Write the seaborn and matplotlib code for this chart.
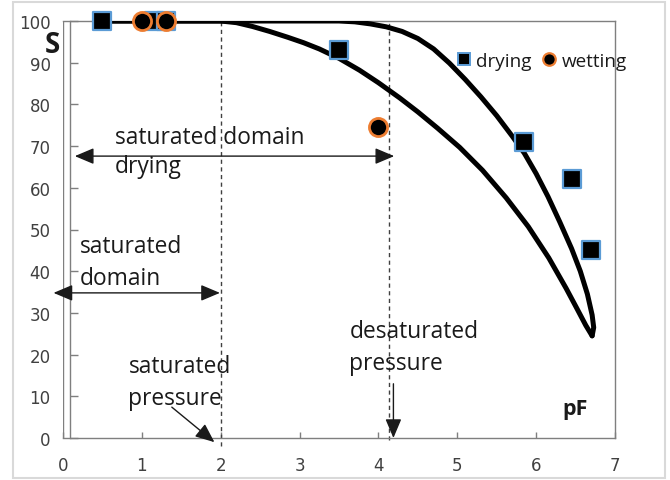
import matplotlib
matplotlib.use("Agg")
import matplotlib.pyplot as plt
import seaborn as sns
import pandas as pd
from matplotlib.lines import Line2D
from matplotlib.patches import Rectangle

# ---- data ----
drying_pf = [0.5, 1.15, 1.3, 3.5, 5.85, 6.45, 6.7]
drying_s = [100, 100, 100, 93, 71, 62, 45]

wetting_pf = [1.0, 1.3, 4.0]
wetting_s = [100, 100, 74.5]

upper_pf = [0.5, 3.5, 3.7, 3.9, 4.1, 4.3, 4.5, 4.7, 4.9, 5.1, 5.3, 5.5, 5.7, 5.85,
            6.0, 6.15, 6.3, 6.45, 6.56, 6.65, 6.71, 6.73, 6.71]
upper_s = [100, 100, 99.8, 99.3, 98.6, 97.5, 95.8, 93.3, 89.9, 86.0, 81.8, 77.3, 72.3, 68.3,
           63.4, 57.9, 51.8, 45.4, 40.0, 34.5, 29.5, 26.5, 24.5]

lower_pf = [0.5, 2.0, 2.2, 2.4, 2.62, 2.85, 3.05, 3.25, 3.5, 3.76, 4.0, 4.27, 4.5, 4.75,
            5.03, 5.32, 5.62, 5.9, 6.16, 6.38, 6.51, 6.63, 6.71]
lower_s = [100, 100, 99.6, 98.7, 97.5, 96.1, 94.8, 93.3, 91.05, 88.2, 85.2, 81.55, 78.2, 74.3,
           69.7, 64.2, 57.6, 50.7, 43.2, 35.9, 31.3, 27.0, 24.5]

x_ticks = [0, 1, 2, 3, 4, 5, 6, 7]
y_ticks = [0, 10, 20, 30, 40, 50, 60, 70, 80, 90, 100]

sat_pressure = 2.0
desat_pressure = 4.13

sns.set_style("white")
plt.rcParams["font.family"] = ["DejaVu Sans"]

fig = plt.figure(figsize=(6.7, 4.81), dpi=100)
ax = fig.add_axes([63 / 670, 1 - 439 / 481, (615 - 63) / 670, (439 - 22) / 481])

dry_df = pd.DataFrame({"pF": drying_pf, "S": drying_s})
wet_df = pd.DataFrame({"pF": wetting_pf, "S": wetting_s})
up_df = pd.DataFrame({"pF": upper_pf, "S": upper_s})
lo_df = pd.DataFrame({"pF": lower_pf, "S": lower_s})

line_kw = dict(color="black", linewidth=3.6, sort=False, estimator=None, zorder=3)
sns.lineplot(data=up_df, x="pF", y="S", ax=ax, **line_kw)
sns.lineplot(data=lo_df, x="pF", y="S", ax=ax, **line_kw)
for ln in ax.lines:
    ln.set_solid_capstyle("round")
    ln.set_solid_joinstyle("round")

sns.scatterplot(data=dry_df, x="pF", y="S", ax=ax, marker="s", s=170,
                color="black", edgecolor="#5b9bd5", linewidth=1.6, zorder=4, clip_on=False)
sns.scatterplot(data=wet_df, x="pF", y="S", ax=ax, marker="o", s=170,
                color="black", edgecolor="#ed7d31", linewidth=2.0, zorder=5, clip_on=False)

ax.set_xlim(0, 7)
ax.set_ylim(0, 100)
ax.set_xticks(x_ticks)
ax.set_yticks(y_ticks)
ax.set_xlabel("")
ax.set_ylabel("")

spine_col = "#7f7f7f"
for sp in ax.spines.values():
    sp.set_color(spine_col)
    sp.set_linewidth(1.0)
    sp.set_visible(True)
ax.spines["left"].set_position(("data", 0.09))
ax.axvline(0, color=spine_col, linewidth=1.0, zorder=1)

ax.tick_params(axis="x", direction="in", length=4, width=1, color=spine_col,
               pad=13, labelsize=12, labelcolor="#404040", bottom=True)
ax.tick_params(axis="y", direction="in", length=6, width=1, color=spine_col,
               pad=14, labelsize=12, labelcolor="#404040", left=True)

# dashed pressure markers
dash_kw = dict(color="#404040", linewidth=1.0, linestyle=(0, (3, 2.5)), clip_on=False, zorder=2)
ax.plot([sat_pressure, sat_pressure], [-2, 100], **dash_kw)
ax.plot([desat_pressure, desat_pressure], [-0.5, 100], **dash_kw)

# arrows
arr_col = "#1a1a1a"
head2 = "<|-|>,head_length=0.9,head_width=0.38"
head1 = "-|>,head_length=0.9,head_width=0.38"
akw = dict(color=arr_col, lw=1.0, shrinkA=0, shrinkB=0)
ax.annotate("", xy=(0.15, 67.6), xytext=(4.2, 67.6), annotation_clip=False,
            arrowprops=dict(arrowstyle=head2, mutation_scale=13, **akw))
ax.annotate("", xy=(-0.12, 34.8), xytext=(1.99, 34.8), annotation_clip=False,
            arrowprops=dict(arrowstyle=head2, mutation_scale=13, **akw))
ax.annotate("", xy=(1.92, -1.0), xytext=(1.38, 7.4), annotation_clip=False,
            arrowprops=dict(arrowstyle=head1, mutation_scale=13, **akw))
ax.annotate("", xy=(4.19, 0.0), xytext=(4.19, 13.0), annotation_clip=False,
            arrowprops=dict(arrowstyle=head1, mutation_scale=13, **akw))

fam = ["Open Sans", "DejaVu Sans"]
txt_kw = dict(fontsize=16.4, color="#1a1a1a", ha="left", va="baseline",
              family=fam, zorder=6)
ax.text(0.66, 70.7, "saturated domain", **txt_kw)
ax.text(0.66, 63.8, "drying", **txt_kw)
ax.text(0.21, 44.6, "saturated", **txt_kw)
ax.text(0.21, 36.9, "domain", **txt_kw)
ax.text(0.83, 15.8, "saturated", **txt_kw)
ax.text(0.83, 8.2, "pressure", **txt_kw)
ax.text(3.63, 24.2, "desaturated", **txt_kw)
ax.text(3.63, 16.5, "pressure", **txt_kw)
ax.text(6.33, 5.8, "pF", fontsize=15.5, fontweight="bold", color="#1a1a1a",
        ha="left", va="baseline", family=fam)
ax.text(-0.13, 92.6, "S", fontsize=20, fontweight="bold", color="#1a1a1a",
        ha="center", va="baseline", family=fam, clip_on=False)

handles = [
    Line2D([], [], marker="s", linestyle="none", markersize=9, markerfacecolor="black",
           markeredgecolor="#5b9bd5", markeredgewidth=1.4, label="drying"),
    Line2D([], [], marker="o", linestyle="none", markersize=9, markerfacecolor="black",
           markeredgecolor="#ed7d31", markeredgewidth=1.6, label="wetting"),
]
leg = ax.legend(handles=handles, loc="center left", bbox_to_anchor=(0.712, 0.904),
                ncol=2, frameon=False, borderaxespad=0, borderpad=0,
                handlelength=0.8, handletextpad=0.25, columnspacing=0.55,
                prop={"family": fam, "size": 13.6})
for t in leg.get_texts():
    t.set_color("#1a1a1a")

fig.patches.append(Rectangle((13 / 670, 2 / 481), (665 - 13) / 670, (478 - 2) / 481,
                             transform=fig.transFigure, fill=False,
                             edgecolor="#d9d9d9", linewidth=1.5))

fig.savefig("out.png", dpi=100)
